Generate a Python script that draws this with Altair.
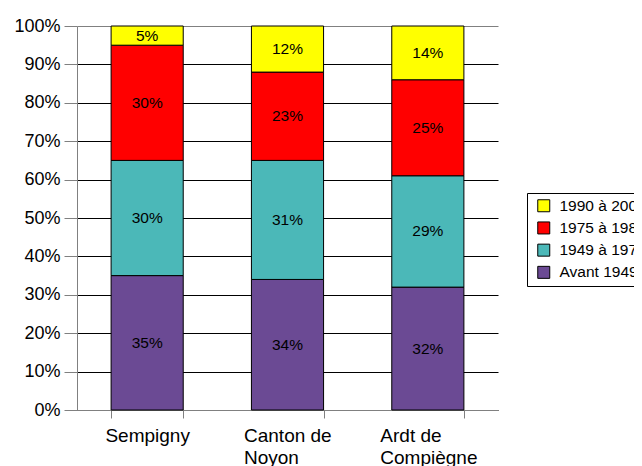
import altair as alt
import pandas as pd

categories = ["Sempigny", "Canton de Noyon", "Ardt de Compiègne"]
periods = ["Avant 1949", "1949 à 1974", "1975 à 1989", "1990 à 2003"]
avant_1949 = [35, 34, 32]
p1949_1974 = [30, 31, 29]
p1975_1989 = [30, 23, 25]
p1990_2003 = [5, 12, 14]
period_colors = ["#6B4A94", "#4BB8B8", "#FF0000", "#FFFF00"]
y_ticks = [0, 10, 20, 30, 40, 50, 60, 70, 80, 90, 100]

series = [avant_1949, p1949_1974, p1975_1989, p1990_2003]
rows = []
for i, c in enumerate(categories):
    for j, p in enumerate(periods):
        rows.append({"cat": c, "period": p, "order": j, "value": series[j][i]})
df = pd.DataFrame(rows)

FONT = "Liberation Sans"

base = alt.Chart(df).transform_stack(
    stack="value", groupby=["cat"], sort=[alt.SortField("order")], as_=["y0", "y1"]
).transform_calculate(
    mid="(datum.y0 + datum.y1) / 2", lab="datum.value + '%'"
)

xscale = alt.Scale(paddingInner=0.486, paddingOuter=0.243)
yscale = alt.Scale(domain=[0, 100], nice=False)

xaxis = alt.Axis(labelAngle=0, tickBand="extent", tickSize=8,
                 tickColor="#808080", domainColor="#808080",
                 labelFontSize=19, labelPadding=8, labelLineHeight=22,
                 labelColor="black", grid=False,
                 labelAlign={"condition": {"test": "datum.value == 'Sempigny'", "value": "center"},
                             "value": "left"},
                 labelOffset={"condition": [{"test": "datum.value == 'Canton de Noyon'", "value": -44},
                                            {"test": "datum.value == 'Ardt de Compiègne'", "value": -48}],
                              "value": 0},
                 labelExpr="split(replace(datum.label, ' de ', ' de|'), '|')")

yaxis = alt.Axis(values=y_ticks, labelExpr="datum.value + '%'",
                 labelOverlap=False, tickCount=11,
                 grid=True, gridWidth=1,
                 gridColor={"condition": {"test": "datum.value == 100", "value": "#808080"},
                            "value": "black"},
                 tickColor="#808080", tickSize=13, domainColor="#808080",
                 labelFontSize=18, labelPadding=4, labelColor="black")

bars = base.mark_bar(stroke="black", strokeWidth=1, opacity=1).encode(
    x=alt.X("cat:N", sort=categories, scale=xscale, title=None, axis=xaxis),
    y=alt.Y("y0:Q", scale=yscale, title=None, axis=yaxis),
    y2="y1:Q",
    color=alt.Color("period:N",
                    scale=alt.Scale(domain=periods[::-1], range=period_colors[::-1]),
                    legend=alt.Legend(orient="none", legendX=450, legendY=167,
                                      title=None, strokeColor="black", fillColor="white",
                                      padding=5, symbolOffset=4,
                                      symbolType="square", symbolSize=144,
                                      symbolStrokeColor="black", symbolStrokeWidth=1,
                                      labelFontSize=15.5, labelColor="black", labelOffset=8,
                                      rowPadding=4.2, labelLimit=300)),
)

text = base.mark_text(fontSize=15.5, font=FONT, color="black").encode(
    x=alt.X("cat:N", sort=categories, scale=xscale, title=None, axis=xaxis),
    y=alt.Y("mid:Q", scale=yscale, title=None, axis=yaxis),
    text="lab:N",
)

chart = alt.layer(bars, text).properties(
    width=421, height=384,
    autosize=alt.AutoSizeParams(type="none"),
    padding={"left": 69, "top": 18, "right": 136, "bottom": 56},
).configure(font=FONT).configure_view(stroke=None)

chart.save("out.html", embed_options={"renderer": "svg", "actions": False})
